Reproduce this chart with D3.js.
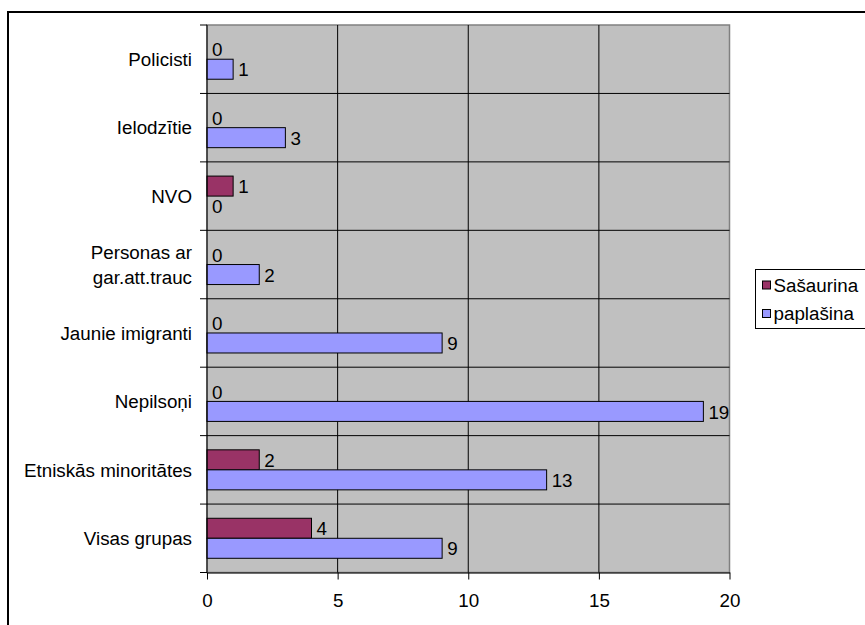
<!DOCTYPE html>
<html>
<head>
<meta charset="utf-8">
<script src="https://cdn.jsdelivr.net/npm/d3@7"></script>
<style>
  body { margin: 0; background: #fff; }
  svg text { font-family: "Liberation Sans", Arial, sans-serif; fill: #000; }
</style>
</head>
<body>
<svg id="chart" width="865" height="625"></svg>
<script>
// Categories top to bottom, as in the reference
var categories = ["Policisti", "Ielodzītie", "NVO", "Personas ar gar.att.trauc",
                  "Jaunie imigranti", "Nepilsoņi", "Etniskās minoritātes", "Visas grupas"];
var seriesNames = ["Sašaurina", "paplašina"];
var sasaurina = [0, 0, 1, 0, 0, 0, 2, 4];
var paplasina = [1, 3, 0, 2, 9, 19, 13, 9];
var xTicks = [0, 5, 10, 15, 20];

var colors = {"Sašaurina": "#993366", "paplašina": "#9999FF"};
var fontSize = 18.8;

var rows = categories.map(function(c, i) {
  return {cat: c, values: [
    {key: seriesNames[0], value: sasaurina[i]},
    {key: seriesNames[1], value: paplasina[i]}
  ]};
});

var plot = {left: 207, top: 25, right: 729.5, bottom: 572.5};
var svg = d3.select("#chart");

// outer chart border (cut by the window on right and bottom)
svg.append("rect")
   .attr("x", 8).attr("y", 12)
   .attr("width", 1000).attr("height", 1000)
   .attr("fill", "#fff")
   .attr("stroke", "#000")
   .attr("stroke-width", 2);

var x = d3.scaleLinear().domain([0, 20]).range([plot.left, plot.right]);
var y = d3.scaleBand().domain(categories).range([plot.top, plot.bottom]).paddingInner(0);
var y1 = d3.scaleBand().domain(seriesNames).range([0, y.bandwidth()])
           .paddingInner(0).paddingOuter(0.71);

// plot area
svg.append("rect")
   .attr("x", plot.left).attr("y", plot.top)
   .attr("width", plot.right - plot.left)
   .attr("height", plot.bottom - plot.top)
   .attr("fill", "#C0C0C0")
   .attr("stroke", "#808080")
   .attr("stroke-width", 1.5);

// vertical gridlines
svg.selectAll(".vgrid")
   .data(xTicks.slice(1, -1))
   .enter().append("line")
   .attr("class", "vgrid")
   .attr("x1", function(d) { return x(d); })
   .attr("x2", function(d) { return x(d); })
   .attr("y1", plot.top).attr("y2", plot.bottom)
   .attr("stroke", "#000").attr("stroke-width", 1);

// horizontal lines between categories + ticks to the left
var bounds = categories.map(function(c) { return y(c); }).concat([y.range()[1]]);
svg.selectAll(".hgrid")
   .data(bounds.slice(1, -1))
   .enter().append("line")
   .attr("class", "hgrid")
   .attr("x1", plot.left).attr("x2", plot.right)
   .attr("y1", function(d) { return d; })
   .attr("y2", function(d) { return d; })
   .attr("stroke", "#000").attr("stroke-width", 1);

svg.selectAll(".ctick")
   .data(bounds)
   .enter().append("line")
   .attr("class", "ctick")
   .attr("x1", plot.left - 7).attr("x2", plot.left)
   .attr("y1", function(d) { return d; })
   .attr("y2", function(d) { return d; })
   .attr("stroke", "#000").attr("stroke-width", 1);

// bars
var groups = svg.selectAll("g.cat")
  .data(rows)
  .enter().append("g")
  .attr("class", "cat")
  .attr("transform", function(d) { return "translate(0," + y(d.cat) + ")"; });

groups.selectAll("rect")
  .data(function(d) { return d.values; })
  .enter().append("rect")
  .attr("x", x(0))
  .attr("y", function(d) { return y1(d.key); })
  .attr("width", function(d) { return x(d.value) - x(0); })
  .attr("height", y1.bandwidth())
  .attr("fill", function(d) { return colors[d.key]; })
  .attr("stroke", function(d) { return d.value > 0 ? "#000" : "none"; })
  .attr("stroke-width", 1);

groups.selectAll("text.val")
  .data(function(d) { return d.values; })
  .enter().append("text")
  .attr("class", "val")
  .attr("x", function(d) { return x(d.value) + 5; })
  .attr("y", function(d) { return y1(d.key) + y1.bandwidth() / 2; })
  .attr("dy", "0.38em")
  .style("font-size", fontSize + "px")
  .text(function(d) { return d.value; });

// category axis line
svg.append("line")
   .attr("x1", plot.left).attr("x2", plot.left)
   .attr("y1", plot.top).attr("y2", plot.bottom)
   .attr("stroke", "#000").attr("stroke-width", 1);

// value axis
var xAxis = svg.append("g")
   .attr("transform", "translate(0," + plot.bottom + ")")
   .call(d3.axisBottom(x).tickValues(xTicks).tickSize(7).tickSizeOuter(0).tickPadding(14));
xAxis.select(".domain").attr("stroke", "#000");
xAxis.selectAll(".tick line").attr("stroke", "#000");
xAxis.selectAll("text")
   .style("font-size", fontSize + "px")
   .style("font-family", "'Liberation Sans', Arial, sans-serif")
   .attr("fill", "#000");

// category labels, wrapped when too long
var labels = svg.selectAll("text.cat-label")
  .data(categories)
  .enter().append("text")
  .attr("class", "cat-label")
  .attr("text-anchor", "end")
  .style("font-size", fontSize + "px");

labels.each(function(c) {
  var t = d3.select(this);
  var words = c.split(" ");
  var lines = [], line = [];
  words.forEach(function(w) {
    line.push(w);
    t.text(line.join(" "));
    if (this.getComputedTextLength() > 180 && line.length > 1) {
      line.pop();
      lines.push(line.join(" "));
      line = [w];
    }
  }, this);
  lines.push(line.join(" "));
  t.text(null);
  var lh = 25;
  var cy = y(c) + y.bandwidth() / 2 - (lines.length - 1) * lh / 2;
  lines.forEach(function(l, i) {
    t.append("tspan")
     .attr("x", plot.left - 15)
     .attr("y", cy + i * lh)
     .attr("dy", "0.36em")
     .text(l);
  });
});

// legend
var legend = svg.append("g").attr("transform", "translate(755.5,269.5)");
legend.append("rect")
  .attr("width", 200).attr("height", 59)
  .attr("fill", "#fff").attr("stroke", "#000").attr("stroke-width", 1);

var items = legend.selectAll("g.item")
  .data(seriesNames)
  .enter().append("g")
  .attr("class", "item")
  .attr("transform", function(d, i) { return "translate(7," + (15.5 + i * 28.5) + ")"; });

items.append("rect")
  .attr("x", 0).attr("y", -4)
  .attr("width", 8).attr("height", 8)
  .attr("fill", function(d) { return colors[d]; })
  .attr("stroke", "#000").attr("stroke-width", 1);

items.append("text")
  .attr("x", 11)
  .attr("dy", "0.36em")
  .style("font-size", fontSize + "px")
  .text(function(d) { return d; });
</script>
</body>
</html>
